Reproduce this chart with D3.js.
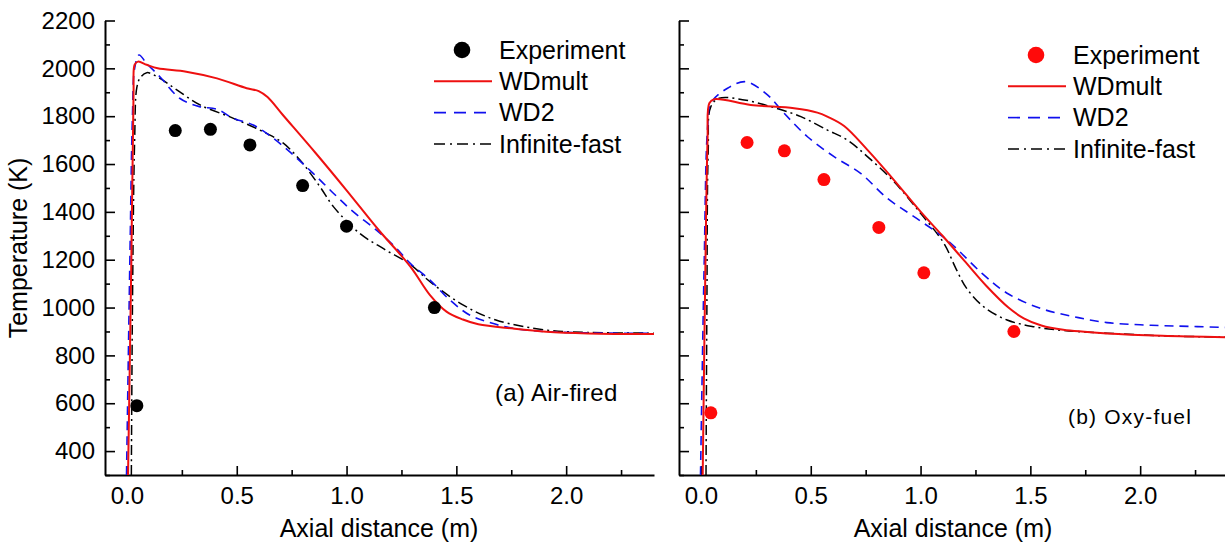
<!DOCTYPE html>
<html>
<head>
<meta charset="utf-8">
<script src="https://cdn.jsdelivr.net/npm/d3@7"></script>
<style>
  body { margin: 0; background: #fff; }
  svg { display: block; font-family: "Liberation Sans", Arial, sans-serif; }
</style>
</head>
<body>
<div id="chart"></div>
<script>
// ---- data: (a) air-fired ----
const airExpX = [0.045, 0.22, 0.38, 0.56, 0.80, 1.00, 1.40];
const airExpT = [590, 1740, 1745, 1680, 1510, 1340, 1000];

const airMultX = [0.005, 0.02, 0.03, 0.035, 0.05, 0.09, 0.14, 0.27, 0.41, 0.545, 0.6, 0.64, 0.71, 0.86, 1.0, 1.15, 1.24, 1.30, 1.38, 1.455, 1.53, 1.6, 1.76, 1.91, 2.1, 2.4];
const airMultT = [300, 1200, 1900, 2015, 2028, 2015, 2000, 1986, 1958, 1917, 1905, 1880, 1805, 1645, 1490, 1320, 1227, 1160, 1052, 983, 950, 930, 912, 899, 892, 889];

const airWd2X = [-0.002, 0.015, 0.025, 0.035, 0.055, 0.09, 0.15, 0.24, 0.33, 0.41, 0.485, 0.575, 0.666, 0.757, 0.848, 0.94, 1.03, 1.136, 1.227, 1.29, 1.38, 1.47, 1.56, 1.66, 1.76, 1.9, 2.1, 2.4];
const airWd2T = [300, 1300, 1800, 2000, 2056, 2020, 1965, 1875, 1840, 1829, 1791, 1763, 1708, 1638, 1561, 1478, 1401, 1324, 1248, 1185, 1115, 1032, 969, 935, 913, 900, 894, 892];

const airInfX = [0.02, 0.025, 0.035, 0.045, 0.06, 0.09, 0.15, 0.227, 0.333, 0.485, 0.636, 0.712, 0.788, 0.879, 0.94, 1.06, 1.17, 1.29, 1.38, 1.53, 1.68, 1.91, 2.1, 2.4];
const airInfT = [300, 1000, 1700, 1920, 1960, 1982, 1958, 1910, 1847, 1791, 1728, 1687, 1617, 1505, 1422, 1310, 1245, 1180, 1108, 1011, 948, 906, 896, 893];

// ---- data: (b) oxy-fuel ----
const oxyExpX = [0.045, 0.21, 0.38, 0.56, 0.81, 1.015, 1.425];
const oxyExpT = [560, 1690, 1655, 1535, 1335, 1145, 900];

const oxyMultX = [0.008, 0.02, 0.03, 0.038, 0.06, 0.227, 0.424, 0.53, 0.576, 0.652, 0.758, 0.879, 1.0, 1.1, 1.2, 1.3, 1.4, 1.47, 1.55, 1.65, 1.85, 2.1, 2.4];
const oxyMultT = [300, 1160, 1700, 1854, 1871, 1847, 1833, 1815, 1798, 1759, 1659, 1533, 1401, 1300, 1195, 1090, 1000, 955, 925, 907, 892, 882, 876];

const oxyWd2X = [-0.002, 0.015, 0.03, 0.045, 0.121, 0.205, 0.303, 0.379, 0.485, 0.606, 0.727, 0.848, 0.97, 1.121, 1.28, 1.394, 1.545, 1.697, 1.849, 2.0, 2.152, 2.4];
const oxyWd2T = [300, 1200, 1750, 1854, 1917, 1944, 1889, 1812, 1714, 1631, 1561, 1457, 1380, 1282, 1143, 1060, 997, 962, 937, 928, 923, 917];

const oxyInfX = [0.023, 0.027, 0.033, 0.045, 0.083, 0.197, 0.318, 0.455, 0.576, 0.667, 0.758, 0.879, 1.0, 1.106, 1.16, 1.21, 1.288, 1.394, 1.515, 1.65, 1.85, 2.1, 2.4];
const oxyInfT = [300, 1000, 1650, 1840, 1875, 1868, 1840, 1798, 1742, 1700, 1631, 1526, 1394, 1269, 1165, 1080, 1003, 948, 920, 904, 893, 882, 876];

const xTicks = [0, 0.5, 1.0, 1.5, 2.0];
const yTicks = [400, 600, 800, 1000, 1200, 1400, 1600, 1800, 2000, 2200];
const seriesNames = ["Experiment", "WDmult", "WD2", "Infinite-fast"];

const W = 1225, H = 546;
const svg = d3.select('#chart').append('svg')
    .attr('width', W)
    .attr('height', H);

const zip = (xs, ys) => xs.map((x, i) => [x, ys[i]]);

function drawPanel(opts) {
    const x = d3.scaleLinear().domain([-0.1, 2.4]).range([opts.left, opts.left + 549]);
    const y = d3.scaleLinear().domain([300, 2200]).range([475, 20.5]);

    const g = svg.append('g');

    // minor ticks
    g.append('g')
        .attr('transform', 'translate(0,475)')
        .call(d3.axisBottom(x).tickValues([0.25, 0.75, 1.25, 1.75, 2.25]).tickSize(-5).tickFormat(''))
        .call(a => a.select('.domain').remove());
    g.append('g')
        .attr('transform', `translate(${opts.left},0)`)
        .call(d3.axisLeft(y).tickValues(d3.range(300, 2200, 200)).tickSize(-5).tickFormat(''))
        .call(a => a.select('.domain').remove());

    // major axes
    const xAxis = g.append('g')
        .attr('transform', 'translate(0,475)')
        .call(d3.axisBottom(x).tickValues(xTicks).tickSizeInner(-9).tickSizeOuter(0).tickPadding(12)
            .tickFormat(d3.format('.1f')));
    const yAxis = g.append('g')
        .attr('transform', `translate(${opts.left},0)`)
        .call(d3.axisLeft(y).tickValues(yTicks).tickSizeInner(-10).tickSizeOuter(0).tickPadding(10)
            .tickFormat(opts.yLabels ? d3.format('d') : ''));

    [xAxis, yAxis].forEach(a => {
        a.select('.domain').attr('stroke-width', 2);
        a.selectAll('.tick text').attr('font-size', 24).attr('fill', '#000').attr('font-family', '"Liberation Sans", Arial, sans-serif');
    });
    g.selectAll('.tick line').attr('stroke-width', 1.6);

    // curves
    const clipId = 'clip' + opts.left;
    svg.append('clipPath').attr('id', clipId)
        .append('rect').attr('x', opts.left).attr('y', 20).attr('width', 549).attr('height', 455);
    const lines = g.append('g').attr('clip-path', `url(#${clipId})`);

    const curves = [
        { d: zip(opts.infX, opts.infT), color: '#000', w: 1.5, dash: '10,4,2,4' },
        { d: zip(opts.wd2X, opts.wd2T), color: '#1010ee', w: 1.6, dash: '9,6' },
        { d: zip(opts.multX, opts.multT), color: '#ee1010', w: 2, dash: null }
    ];
    curves.forEach(c => {
        lines.append('path')
            .datum(c.d)
            .attr('d', d3.line().x(d => x(d[0])).y(d => y(d[1])).curve(d3.curveCatmullRom.alpha(0.5)))
            .attr('fill', 'none')
            .attr('stroke', c.color)
            .attr('stroke-width', c.w)
            .attr('stroke-dasharray', c.dash);
    });

    lines.selectAll('circle.exp')
        .data(zip(opts.expX, opts.expT))
        .enter().append('circle')
        .attr('class', 'exp')
        .attr('cx', d => x(d[0]))
        .attr('cy', d => y(d[1]))
        .attr('r', 6.5)
        .attr('fill', opts.expColor);

    // axis title
    g.append('text')
        .attr('x', opts.left + 274)
        .attr('y', 537)
        .attr('text-anchor', 'middle')
        .attr('font-size', 25)
        .text('Axial distance (m)');

    // legend
    const lg = g.append('g').attr('transform', `translate(${opts.legX},${opts.legY})`);
    const rowH = 31.3;
    seriesNames.forEach((name, i) => {
        const yy = i * rowH;
        if (i === 0) {
            lg.append('circle').attr('cx', 28).attr('cy', yy).attr('r', 8.3).attr('fill', opts.expColor);
        } else {
            const c = curves[3 - i];
            lg.append('line')
                .attr('x1', 0).attr('x2', 58).attr('y1', yy).attr('y2', yy)
                .attr('stroke', c.color).attr('stroke-width', c.w)
                .attr('stroke-dasharray', c.dash ? (i === 2 ? '12,8' : '11,5,2,5') : null);
        }
        lg.append('text')
            .attr('x', 65)
            .attr('y', yy)
            .attr('dy', '0.35em')
            .attr('font-size', 25)
            .text(name);
    });

    // panel label
    g.append('text')
        .attr('x', opts.tagX)
        .attr('y', opts.tagY)
        .attr('font-size', opts.tagSize)
        .attr('letter-spacing', opts.tagSpacing)
        .text(opts.tag);
}

drawPanel({
    left: 105, yLabels: true, expColor: '#000',
    expX: airExpX, expT: airExpT,
    multX: airMultX, multT: airMultT,
    wd2X: airWd2X, wd2T: airWd2T,
    infX: airInfX, infT: airInfT,
    legX: 434, legY: 50,
    tag: '(a) Air-fired', tagX: 495, tagY: 401, tagSize: 24, tagSpacing: 0.3
});

drawPanel({
    left: 679, yLabels: false, expColor: '#ff0a0a',
    expX: oxyExpX, expT: oxyExpT,
    multX: oxyMultX, multT: oxyMultT,
    wd2X: oxyWd2X, wd2T: oxyWd2T,
    infX: oxyInfX, infT: oxyInfT,
    legX: 1008, legY: 55,
    tag: '(b) Oxy-fuel', tagX: 1068, tagY: 424, tagSize: 21, tagSpacing: 1.2
});

// y axis title
svg.append('text')
    .attr('transform', 'translate(27,248) rotate(-90)')
    .attr('text-anchor', 'middle')
    .attr('font-size', 25)
    .text('Temperature (K)');
</script>
</body>
</html>
